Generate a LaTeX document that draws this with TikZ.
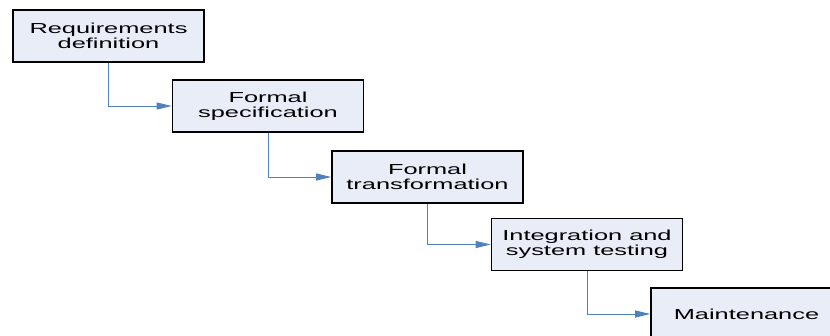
\documentclass[tikz,border=0pt]{standalone}
\usepackage{fontspec}
\setmainfont{Liberation Sans}[FakeStretch=1.75]
\usetikzlibrary{arrows.meta, positioning}

\definecolor{phasefill}{RGB}{233,237,248}
\definecolor{flowblue}{RGB}{79,129,189}

\tikzset{
  phase/.style={rectangle, draw=black, line width=1.6pt, fill=phasefill,
    minimum width=191pt, minimum height=52pt, align=center,
    font=\fontsize{14.5}{15}\selectfont},
  flow/.style={draw=flowblue, line width=0.9pt, -{Triangle[length=15pt, width=7pt]}}
}

\begin{document}
\begin{tikzpicture}[x=1pt, y=-1pt]
\path[use as bounding box, clip] (0,0) rectangle (830,335);

% phases of the process
\node[phase] (req) at (108.5,36) {Requirements\\definition};
\node[phase] (spec) at (268,106) {Formal\\specification};
\node[phase] (trans) at (427.5,177) {Formal\\transformation};
\node[phase] (integ) at (587,244.5) {Integration and\\system testing};
\node[phase] (maint) at (746.5,314) {Maintenance};

% step down to the next phase
\draw[flow] (req.south) |- (spec.west);
\draw[flow] (spec.south) |- (trans.west);
\draw[flow] (trans.south) |- (integ.west);
\draw[flow] (integ.south) |- (maint.west);
\end{tikzpicture}
\end{document}
